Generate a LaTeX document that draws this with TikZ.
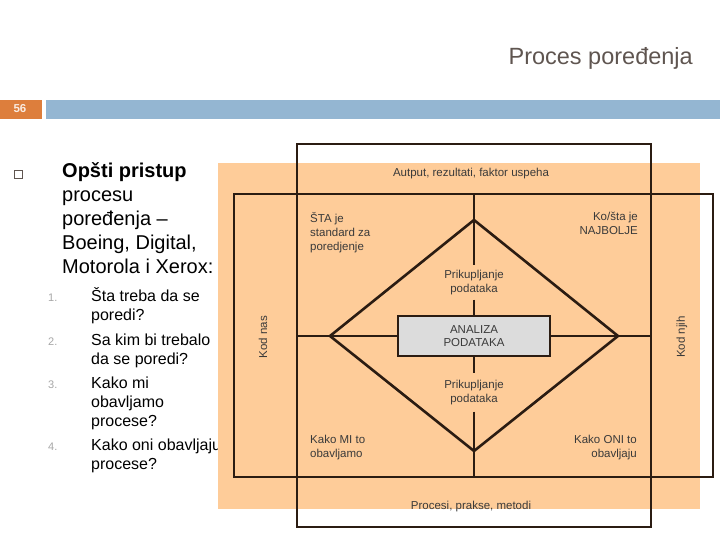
\documentclass[tikz,border=0pt]{standalone}
\usepackage{fontspec}
\setmainfont{Liberation Sans}
\usepackage{xcolor}
\definecolor{peach}{HTML}{FECC99}
\definecolor{barblue}{HTML}{94B6D2}
\definecolor{barorange}{HTML}{DD7E3C}
\definecolor{frameclr}{HTML}{2B1C12}
\definecolor{titleclr}{HTML}{5F5550}
\definecolor{boxgray}{HTML}{DCDCDC}
\definecolor{lbltext}{HTML}{3A3A3A}
\definecolor{numgray}{HTML}{A6A6A6}

\begin{document}
\begin{tikzpicture}[x=1pt,y=-1pt,every node/.style={inner sep=0pt},
  frame/.style={draw=frameclr,line width=2.6pt},
  lbl/.style={font=\fontsize{11.5}{13.8}\selectfont,text=lbltext},
  gather/.style={lbl,align=center,inner ysep=5pt}]
  \useasboundingbox (0,0) rectangle (720,540);
  % title and slide bar
  \node[anchor=base east,font=\fontsize{23.5}{27}\selectfont,text=titleclr] (title) at (693,65) {Proces poređenja};
  \fill[barorange] (0,100) rectangle (42,119);
  \fill[barblue] (46,100) rectangle (720,119);
  \node[font=\fontsize{11.5}{13}\selectfont\bfseries,text=white!85!barorange] (pageno) at (20,109) {56};
  % left text (base of a multi-line node = its last line)
  \node[draw=titleclr,line width=0.7pt,minimum size=8pt] (bullet) at (18.3,174) {};
  \node[anchor=base west,align=left,font=\fontsize{20}{23.8}\selectfont] (head) at (62,273)
    {\textbf{Opšti pristup}\\procesu\\poređenja –\\Boeing, Digital,\\Motorola i Xerox:};
  \foreach \n/\y/\z/\t in {1/301/320/{Šta treba da se\\poredi?},2/345/364/{Sa kim bi trebalo\\da se poredi?},
     3/388/426/{Kako mi\\obavljamo\\procese?},4/450/469/{Kako oni obavljaju\\procese?}} {
    \node[anchor=base west,font=\fontsize{11}{13}\selectfont,text=numgray] (num\n) at (48,\y) {\n.};
    \node[anchor=base west,align=left,font=\fontsize{16}{19}\selectfont] (item\n) at (91,\z) {\t};}
  % background and the two frames
  \fill[peach] (218,163) rectangle (700,509);
  \draw[frame] (297,144) rectangle (651,527);
  \draw[frame] (234,194) rectangle (713,477);
  \coordinate (wt) at (474,194);
  \coordinate (wb) at (474,477);
  \coordinate (fl) at (297,336);
  \coordinate (fr) at (651,336);
  % diamond
  \coordinate (dt) at (474,220);
  \coordinate (dr) at (618,336);
  \coordinate (db) at (474,451);
  \coordinate (dl) at (330,336);
  \draw[frame,line join=miter] (dt) -- (dr) -- (db) -- (dl) -- cycle;
  \node[frame,fill=boxgray,lbl,align=center,minimum width=152pt,minimum height=40pt] (ana) at (474,336) {ANALIZA\\PODATAKA};
  \node[gather,anchor=base] (pu) at (474,292) {Prikupljanje\\podataka};
  \node[gather,anchor=base,inner ysep=7pt] (pd) at (474,402) {Prikupljanje\\podataka};
  \draw[frame] (wt) -- (pu.north);
  \draw[frame] (pu.south) -- (ana.north);
  \draw[frame] (ana.south) -- (pd.north);
  \draw[frame] (pd.south) -- (wb);
  \draw[frame] (fl) -- (ana.west);
  \draw[frame] (ana.east) -- (fr);
  % labels
  \node[lbl,anchor=base] (out) at (471,177) {Autput, rezultati, faktor uspeha};
  \node[lbl,anchor=base] (proc) at (471,509) {Procesi, prakse, metodi};
  \node[lbl,anchor=base west,align=left] (sta) at (310,250) {ŠTA je\\standard za\\poredjenje};
  \node[lbl,anchor=base east,align=right] (best) at (638,234) {Ko/šta je\\NAJBOLJE};
  \node[lbl,anchor=base west,align=left] (mi) at (310,457) {Kako MI to\\obavljamo};
  \node[lbl,anchor=base east,align=right] (oni) at (637,457) {Kako ONI to\\obavljaju};
  \node[lbl,rotate=90] (nas) at (263,337) {Kod nas};
  \node[lbl,rotate=90] (njih) at (682,337) {Kod njih};
\end{tikzpicture}
\end{document}
